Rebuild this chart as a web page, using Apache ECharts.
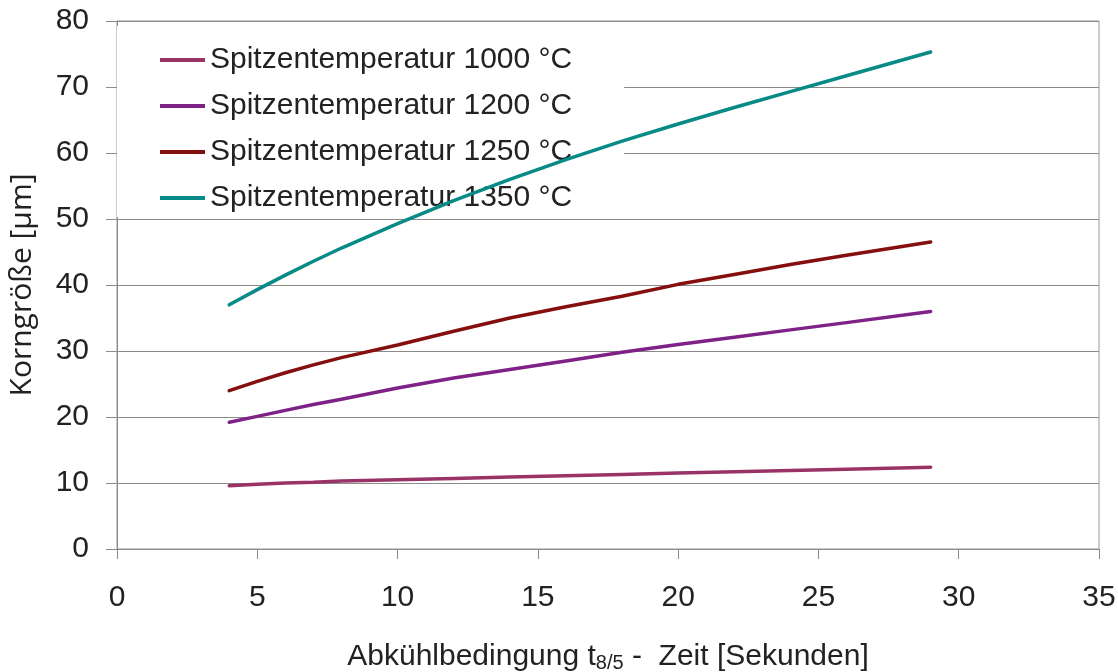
<!DOCTYPE html>
<html>
<head>
<meta charset="utf-8">
<script src="https://cdn.jsdelivr.net/npm/echarts@6/dist/echarts.min.js"></script>
<style>html,body{margin:0;padding:0;background:#fff}#c{width:1118px;height:672px}</style>
</head>
<body>
<div id="c"></div>
<script>
const xValues = [4, 5, 6, 7, 8, 10, 12, 14, 16, 18, 20, 22, 24, 26, 29];
const t1000 = [9.6, 9.8, 10.0, 10.1, 10.3, 10.5, 10.7, 10.9, 11.1, 11.3, 11.5, 11.7, 11.9, 12.1, 12.4];
const t1200 = [19.2, 20.1, 21.0, 21.9, 22.7, 24.4, 25.9, 27.2, 28.5, 29.8, 31.0, 32.1, 33.2, 34.3, 36.0];
const t1250 = [24.0, 25.4, 26.7, 27.9, 29.0, 30.9, 33.0, 35.0, 36.7, 38.3, 40.1, 41.6, 43.1, 44.5, 46.5];
const t1350 = [37.0, 39.3, 41.5, 43.6, 45.6, 49.3, 52.8, 56.0, 59.0, 61.8, 64.4, 66.9, 69.3, 71.7, 75.3];
const seriesNames = ['Spitzentemperatur 1000 °C', 'Spitzentemperatur 1200 °C', 'Spitzentemperatur 1250 °C', 'Spitzentemperatur 1350 °C'];
const seriesColors = ['#993366', '#7f2288', '#850f0f', '#088a86'];
const yTitle = 'Korngröße [µm]';

const allData = [t1000, t1200, t1250, t1350];
const chart = echarts.init(document.getElementById('c'), null, {renderer: 'canvas'});
const font = 'Liberation Sans, Arial, sans-serif';
chart.setOption({
  animation: false,
  backgroundColor: '#ffffff',
  grid: {left: 117, right: 19, top: 21, bottom: 123, show: true, borderColor: '#9a9a9a', borderWidth: 1, backgroundColor: 'transparent', containLabel: false, outerBoundsMode: 'none'},
  legend: {
    orient: 'vertical', left: 117, top: 26,
    padding: [19, 52, 4, 43],
    itemGap: 16, itemWidth: 45, itemHeight: 4, icon: 'rect',
    backgroundColor: '#ffffff', z: 1,
    textStyle: {fontFamily: font, fontSize: 30, color: '#222'},
    data: seriesNames
  },
  xAxis: {
    type: 'value', min: 0, max: 35, interval: 5,
    axisLine: {show: true, onZero: false, lineStyle: {color: '#8a8a8a', width: 1}},
    axisTick: {show: true, inside: false, length: 10, lineStyle: {color: '#8a8a8a'}},
    splitLine: {show: false},
    axisLabel: {fontFamily: font, fontSize: 30, color: '#222', margin: 34},
    name: '{a|Abkühlbedingung t}{s|8/5}{a| -  Zeit [Sekunden]}',
    nameLocation: 'middle', nameGap: 92,
    nameTextStyle: {rich: {a: {fontFamily: font, fontSize: 30, color: '#222'}, s: {fontFamily: font, fontSize: 20, color: '#222', verticalAlign: 'bottom', padding: [12, 0, 0, 0]}}}
  },
  yAxis: {
    type: 'value', min: 0, max: 80, interval: 10,
    axisLine: {show: true, lineStyle: {color: '#8a8a8a', width: 1}},
    axisTick: {show: true, inside: false, length: 11, lineStyle: {color: '#8a8a8a'}},
    splitLine: {show: true, lineStyle: {color: '#8a8a8a', width: 1}},
    axisLabel: {fontFamily: font, fontSize: 30, color: '#222', margin: 28},
    name: yTitle, nameLocation: 'middle', nameGap: 80, nameRotate: 90,
    nameTextStyle: {fontFamily: 'Open Sans, sans-serif', fontSize: 30, color: '#222'}
  },
  series: allData.map((d, i) => ({
    name: seriesNames[i], type: 'line', z: 3,
    data: xValues.map((x, j) => [x, d[j]]),
    showSymbol: false, symbol: 'none', smooth: false,
    lineStyle: {color: seriesColors[i], width: 3.5, cap: 'round', join: 'round'},
    itemStyle: {color: seriesColors[i]}
  }))
});
</script>
</body>
</html>
